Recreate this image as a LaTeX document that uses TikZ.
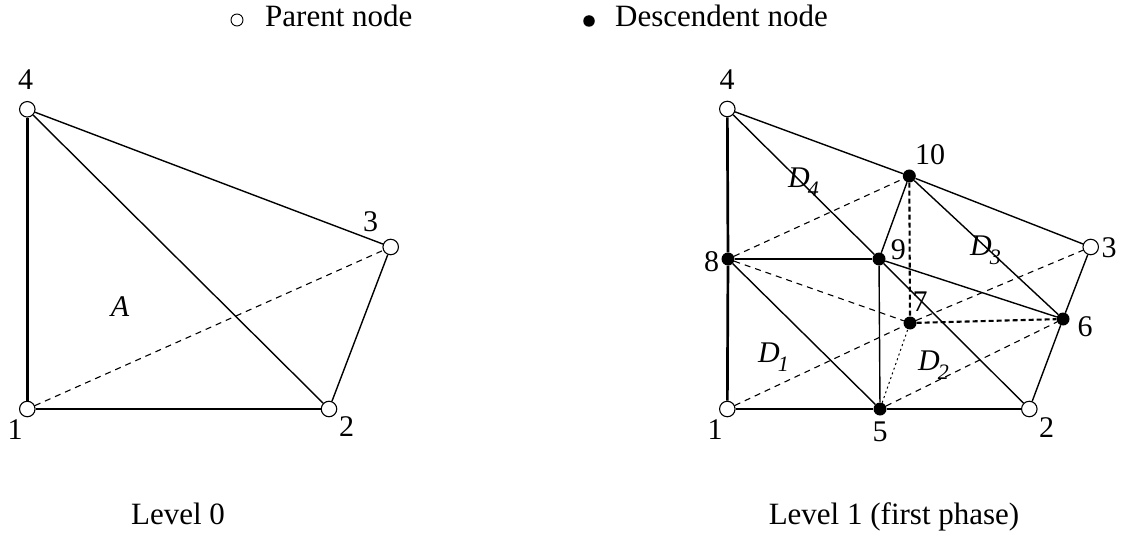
\documentclass[tikz,border=0pt]{standalone}
\usepackage{fontspec}
\setmainfont{Liberation Serif}
\begin{document}
\begin{tikzpicture}[x=1pt,y=-1pt,
  parent/.style={circle, draw, fill=white, inner sep=0pt, minimum size=15.5pt, line width=1.1pt},
  desc/.style={circle, fill=black, inner sep=0pt, minimum size=13pt},
  lbl/.style={inner sep=0pt, font=\fontsize{30}{30}\selectfont},
  txt/.style={inner sep=0pt, anchor=base, font=\fontsize{31}{36}\selectfont},
  solidline/.style={line width=1.4pt},
  thickline/.style={line width=2.7pt},
  midline/.style={line width=2pt},
  dashline/.style={line width=1.1pt, dash pattern=on 6pt off 5pt},
  bolddash/.style={line width=2.1pt, dash pattern=on 5pt off 3pt},
  dotline/.style={line width=1pt, dash pattern=on 2pt off 3pt}]
\path[use as bounding box] (0,0) rectangle (1123,537);

% legend
\node[parent, minimum size=12pt, line width=0.9pt] (lgp) at (237,20) {};
\node[txt, anchor=base west] (lgpt) at (265,27) {Parent node};
\node[desc, minimum size=11.5pt] (lgd) at (589,21) {};
\node[txt, anchor=base west] (lgdt) at (615,27) {Descendent node};

% level 0
\node[parent] (p1) at (27.3,409) {};
\node[parent] (p2) at (329,409) {};
\node[parent] (p3) at (390.7,247) {};
\node[parent] (p4) at (27.3,109.3) {};
\draw[thickline] (p1) -- (p4);
\draw[solidline] (p4) -- (p3);
\draw[solidline] (p3) -- (p2);
\draw[solidline] (p2) -- (p1);
\draw[solidline] (p4) -- (p2);
\draw[dashline] (p1) -- (p3);
\node[lbl] (lp4) at (25.7,80) {4};
\node[lbl] (lp1) at (15,430) {1};
\node[lbl] (lp2) at (346.7,427) {2};
\node[lbl] (lp3) at (370.7,221.7) {3};
\node[lbl] (la) at (120,306.7) {\itshape A};
\node[txt] (lev0) at (178,524) {Level 0};

% level 1
\node[parent] (q1) at (727.3,409) {};
\node[parent] (q2) at (1029.3,409) {};
\node[parent] (q3) at (1090.7,247) {};
\node[parent] (q4) at (727.3,109) {};
\node[desc] (q5) at (880,409) {};
\node[desc] (q6) at (1063,319) {};
\node[desc] (q7) at (910,323) {};
\node[desc] (q8) at (728,259) {};
\node[desc] (q9) at (879,259) {};
\node[desc] (q10) at (909.3,176) {};

\draw[thickline] (q1) -- (q8);
\draw[thickline] (q8) -- (q4);
\draw[solidline] (q4) -- (q10);
\draw[solidline] (q10) -- (q3);
\draw[solidline] (q3) -- (q6);
\draw[solidline] (q6) -- (q2);
\draw[solidline] (q2) -- (q5);
\draw[solidline] (q5) -- (q1);
\draw[solidline] (q4) -- (q9);
\draw[solidline] (q9) -- (q2);
\draw[midline] (q8) -- (q9);
\draw[solidline] (q9) -- (q5);
\draw[solidline] (q8) -- (q5);
\draw[solidline] (q9) -- (q10);
\draw[solidline] (q10) -- (q6);
\draw[solidline] (q9) -- (q6);
\draw[dashline] (q1) -- (q7);
\draw[dashline] (q7) -- (q3);
\draw[dashline] (q8) -- (q10);
\draw[dashline] (q8) -- (q7);
\draw[dashline] (q5) -- (q6);
\draw[bolddash] (q10) -- (q7);
\draw[bolddash] (q7) -- (q6);
\draw[dotline] (q5) -- (q7);

\node[lbl] (lq4) at (727,80) {4};
\node[lbl] (lq1) at (715,430) {1};
\node[lbl] (lq2) at (1046.7,428) {2};
\node[lbl] (lq3) at (1109,248) {3};
\node[lbl] (lq5) at (880,431.7) {5};
\node[lbl] (lq6) at (1085,326.7) {6};
\node[lbl] (lq7) at (920,301.7) {7};
\node[lbl] (lq8) at (711.7,261.7) {8};
\node[lbl] (lq9) at (898.3,250) {9};
\node[lbl] (lq10) at (930,155) {10};

\node[lbl, anchor=base west] (d4) at (788,188) {\itshape D\kern-2pt\raisebox{-9pt}{\fontsize{22}{22}\selectfont 4}};
\node[lbl, anchor=base west] (d3) at (970,255) {\itshape D\kern-2pt\raisebox{-9pt}{\fontsize{22}{22}\selectfont 3}};
\node[lbl, anchor=base west] (d1) at (758,362) {\itshape D\kern-2pt\raisebox{-9pt}{\fontsize{22}{22}\selectfont 1}};
\node[lbl, anchor=base west] (d2) at (918,370) {\itshape D\kern-2pt\raisebox{-9pt}{\fontsize{22}{22}\selectfont 2}};

\node[txt] (lev1) at (894,524) {Level 1 (first phase)};
\end{tikzpicture}
\end{document}
